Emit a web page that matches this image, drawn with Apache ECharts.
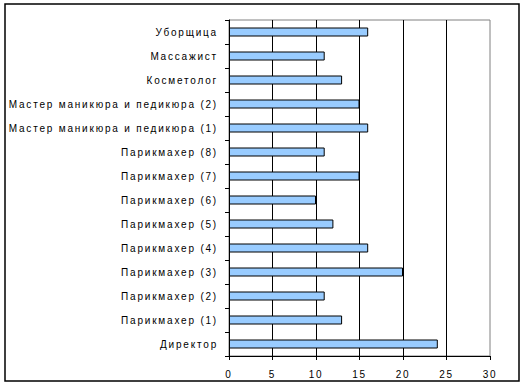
<!DOCTYPE html>
<html><head><meta charset="utf-8">
<script src="https://cdn.jsdelivr.net/npm/echarts@6/dist/echarts.min.js"></script>
<style>
html,body{margin:0;padding:0;background:#fff;}
#c{width:525px;height:385px;}
#c text{letter-spacing:1.8px;}
</style></head>
<body><div id="c"></div>
<script>
const categories = ["Уборщица","Массажист","Косметолог","Мастер маникюра и педикюра (2)","Мастер маникюра и педикюра (1)","Парикмахер (8)","Парикмахер (7)","Парикмахер (6)","Парикмахер (5)","Парикмахер (4)","Парикмахер (3)","Парикмахер (2)","Парикмахер (1)","Директор"];
const values = [16,11,13,15,16,11,15,10,12,16,20,11,13,24];
const xTicks = [0,5,10,15,20,25,30];

const chart = echarts.init(document.getElementById('c'), null, {renderer:'svg'});
chart.setOption({
  animation:false,
  backgroundColor:'#fff',
  graphic:[{type:'rect',shape:{x:5,y:4,width:514,height:377},style:{fill:'none',stroke:'#000',lineWidth:1.5},z:100}],
  grid:{left:229,right:35,top:20,bottom:29,containLabel:false,show:true,borderColor:'#808080',borderWidth:1},
  xAxis:{type:'value',min:xTicks[0],max:xTicks[xTicks.length-1],interval:5,
    axisLine:{show:true,lineStyle:{color:'#000',width:1}},
    axisTick:{show:true,length:4,lineStyle:{color:'#000'}},
    axisLabel:{color:'#000',fontFamily:'Liberation Sans, Arial',fontSize:10,margin:13},
    splitLine:{show:true,showMinLine:false,showMaxLine:false,lineStyle:{color:'#000',width:1}}},
  yAxis:{type:'category',inverse:true,data:categories,
    axisLine:{show:true,lineStyle:{color:'#000',width:1}},
    axisTick:{show:true,length:4,lineStyle:{color:'#000'}},
    axisLabel:{color:'#000',fontFamily:'Liberation Sans, Arial',fontSize:10,margin:11}},
  series:[{type:'bar',data:values,barWidth:9,
    itemStyle:{color:'#99ccff',borderColor:'#000',borderWidth:1}}]
});
</script></body></html>
